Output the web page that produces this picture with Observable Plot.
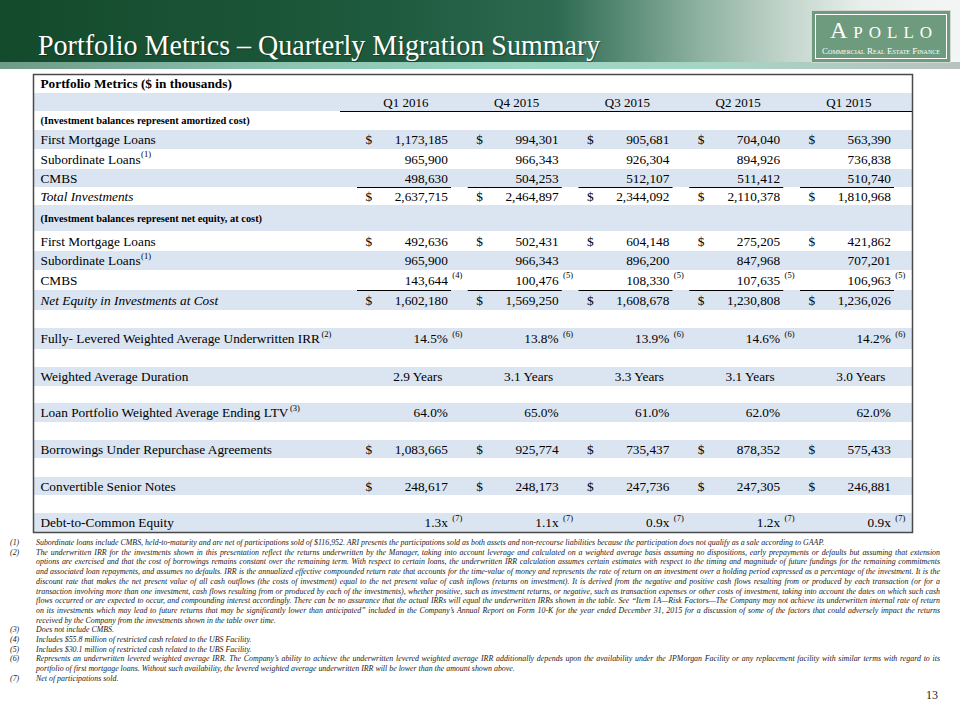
<!DOCTYPE html>
<html><head><meta charset="utf-8">
<script src="https://cdn.jsdelivr.net/npm/d3@7"></script>
<script src="https://cdn.jsdelivr.net/npm/@observablehq/plot@0.6"></script>
<style>
body{margin:0;width:960px;height:720px;position:relative;overflow:hidden;background:#fff;font-family:'Liberation Serif','Times New Roman',serif;}
#banner{position:absolute;left:0;top:0;width:960px;height:62px;background:linear-gradient(90deg,#144a2c 0%,#1e5a3d 40%,#2d6a51 58%,#5f907b 66%,#8fb2a2 73%,#c3d5cc 82%,#e9efec 90%,#f4f6f5 100%);}
#strip{position:absolute;left:0;top:62px;width:960px;height:7px;background:linear-gradient(90deg,#6f9a88 0%,#8cc4b0 30%,#9ad6c1 55%,#a6d4c4 75%,#b8c2be 100%);}
#title{position:absolute;left:38px;top:32px;font-size:28px;line-height:28px;color:#fff;white-space:nowrap;text-shadow:1px 1px 1px rgba(0,0,0,0.35);transform:scaleY(1.07);transform-origin:left bottom;}
#logo{position:absolute;left:811px;top:10px;width:138px;height:51px;background:#6e9b7d;border:1px solid #cfd8d2;}
#logoInner{position:absolute;left:3px;top:3px;right:3px;bottom:3px;border:1.5px solid #fff;}
#logoName{position:absolute;left:0;right:0;top:7px;text-align:center;color:#fff;font-size:24px;line-height:24px;letter-spacing:6px;font-variant:small-caps;padding-left:6px;}
#logoSub{position:absolute;left:0;right:0;top:36px;text-align:center;color:#fff;font-size:9px;line-height:9px;font-variant:small-caps;white-space:nowrap;}
#chart{position:absolute;left:0;top:70px;}
.fn{position:absolute;font-style:italic;font-size:7.9px;line-height:9.7px;color:#222;white-space:nowrap;}
.fnText{left:36px;width:904px;}
.fnJust{text-align:justify;text-align-last:justify;}
.fnNum{left:10px;}
#page{position:absolute;left:900px;width:38px;text-align:right;top:688px;font-size:12px;line-height:14px;color:#222;}
</style></head><body>
<div id="banner"></div>
<div id="strip"></div>
<div id="title"></div>
<div id="logo"><div id="logoInner"></div><div id="logoName"></div><div id="logoSub"></div></div>
<div id="chart"></div>
<div id="notes"></div>
<div id="page"></div>
<script>
// ---------- text ----------
const slideTitle = "Portfolio Metrics \u2013 Quarterly Migration Summary";
const logoName = "Apollo";
const logoSub = "Commercial Real Estate Finance";
const pageNumber = "13";
const tableTitle = "Portfolio Metrics ($ in thousands)";
const sectionNotes = ["(Investment balances represent amortized cost)", "(Investment balances represent net equity, at cost)"];

// ---------- data ----------
const quarters = ["Q1 2016", "Q4 2015", "Q3 2015", "Q2 2015", "Q1 2015"];
const amortFirstMortgage = [1173185, 994301, 905681, 704040, 563390];
const amortSubordinate = [965900, 966343, 926304, 894926, 736838];
const amortCMBS = [498630, 504253, 512107, 511412, 510740];
const amortTotal = [2637715, 2464897, 2344092, 2110378, 1810968];
const equityFirstMortgage = [492636, 502431, 604148, 275205, 421862];
const equitySubordinate = [965900, 966343, 896200, 847968, 707201];
const equityCMBS = [143644, 100476, 108330, 107635, 106963];
const equityCMBSNotes = ["(4)", "(5)", "(5)", "(5)", "(5)"];
const equityTotal = [1602180, 1569250, 1608678, 1230808, 1236026];
const irr = [14.5, 13.8, 13.9, 14.6, 14.2];
const irrNotes = ["(6)", "(6)", "(6)", "(6)", "(6)"];
const duration = [2.9, 3.1, 3.3, 3.1, 3.0];
const ltv = [64.0, 65.0, 61.0, 62.0, 62.0];
const repo = [1083665, 925774, 735437, 878352, 575433];
const convertible = [248617, 248173, 247736, 247305, 246881];
const debtToEquity = [1.3, 1.1, 0.9, 1.2, 0.9];
const debtNotes = ["(7)", "(7)", "(7)", "(7)", "(7)"];

const footnoteNumbers = ["(1)", "(2)", "(3)", "(4)", "(5)", "(6)", "(7)"];
const footnoteLines = [
  ["Subordinate loans include CMBS, held-to-maturity and are net of participations sold of $116,952.  ARI presents the participations sold as both assets and non-recourse liabilities because the participation does not qualify as a sale according to GAAP."],
  ["The underwritten  IRR for the investments shown in this presentation reflect the returns underwritten by the Manager, taking into account leverage and calculated on a weighted average basis assuming no dispositions, early prepayments or defaults but assuming that extension",
   "options are exercised and that the cost of borrowings remains constant over the remaining term.  With respect to certain loans, the underwritten IRR calculation assumes certain estimates with respect to the timing and magnitude of future fundings for the remaining commitments",
   "and associated loan repayments, and assumes no defaults. IRR is the annualized effective compounded return rate that accounts for the time-value of money and represents the rate of return on an investment over a holding period expressed as a percentage of the investment. It is the",
   "discount rate that makes the net present value of all cash outflows (the costs of investment) equal to the net present value of cash inflows (returns on investment). It is derived from the negative and positive cash flows resulting from or produced by each transaction (or for a",
   "transaction involving more than one investment, cash flows resulting from or produced by each of the investments), whether positive, such as investment returns, or negative, such as transaction expenses or other costs of investment, taking into account the dates on which such cash",
   "flows occurred or are expected to occur, and compounding interest accordingly. There can be no assurance that the actual IRRs will equal the underwritten IRRs shown in the table. See \u201cItem 1A\u2014Risk Factors\u2014The Company may not achieve its underwritten internal rate of return",
   "on its investments which may lead to future returns that may be significantly lower than anticipated\u201d included in the Company\u2019s Annual Report on Form 10-K for the year ended December 31, 2015 for a discussion of some of the factors that could adversely impact the returns",
   "received by the Company from the investments shown in the table over time."],
  ["Does not include CMBS."],
  ["Includes $55.8 million of restricted cash related to the UBS Facility."],
  ["Includes $30.1 million of restricted cash related to the UBS Facility."],
  ["Represents an underwritten levered weighted average IRR.  The Company\u2019s ability to achieve the underwritten levered weighted average IRR additionally depends upon the availability under the JPMorgan Facility or any replacement facility with similar terms with regard to its",
   "portfolio of first mortgage loans.   Without such availability, the levered weighted average underwritten IRR will be lower than the amount shown above."],
  ["Net of participations sold."]
];

// ---------- layout (row heights of the table, px) ----------
const rowHeights = [19,18,19,19,20,18,18,26,20,19,20,20,18,21,18,19,17,19,18,18,19,18,18,19];

// ---------- build ----------
document.getElementById("title").textContent = slideTitle;
document.getElementById("logoName").textContent = logoName;
document.getElementById("logoSub").textContent = logoSub;
document.getElementById("page").textContent = pageNumber;

const numFmt = d3.format(",");
const oneDec = d3.format(".1f");
const pctFmt = v => oneDec(v) + "%";
const yrFmt = v => oneDec(v) + " Years";
const xFmt = v => oneDec(v) + "x";

const rows = [
  {kind: "title", label: tableTitle},
  {kind: "header"},
  {kind: "note", label: sectionNotes[0]},
  {kind: "data", label: "First Mortgage Loans", values: amortFirstMortgage, fmt: numFmt, dollar: true},
  {kind: "data", label: "Subordinate Loans", sup: "(1)", values: amortSubordinate, fmt: numFmt},
  {kind: "data", label: "CMBS", values: amortCMBS, fmt: numFmt, underline: true},
  {kind: "data", label: "Total Investments", italic: true, values: amortTotal, fmt: numFmt, dollar: true},
  {kind: "note", label: sectionNotes[1]},
  {kind: "data", label: "First Mortgage Loans", values: equityFirstMortgage, fmt: numFmt, dollar: true},
  {kind: "data", label: "Subordinate Loans", sup: "(1)", values: equitySubordinate, fmt: numFmt},
  {kind: "data", label: "CMBS", values: equityCMBS, notes: equityCMBSNotes, fmt: numFmt, underline: true},
  {kind: "data", label: "Net Equity in Investments at Cost", italic: true, values: equityTotal, fmt: numFmt, dollar: true},
  {kind: "spacer"},
  {kind: "data", label: "Fully- Levered Weighted Average Underwritten IRR", sup: "(2)", values: irr, notes: irrNotes, fmt: pctFmt},
  {kind: "spacer"},
  {kind: "data", label: "Weighted Average Duration", values: duration, fmt: yrFmt, center: true},
  {kind: "spacer"},
  {kind: "data", label: "Loan Portfolio Weighted Average Ending LTV", sup: "(3)", values: ltv, fmt: pctFmt},
  {kind: "spacer"},
  {kind: "data", label: "Borrowings Under Repurchase Agreements", values: repo, fmt: numFmt, dollar: true},
  {kind: "spacer"},
  {kind: "data", label: "Convertible Senior Notes", values: convertible, fmt: numFmt, dollar: true},
  {kind: "spacer"},
  {kind: "data", label: "Debt-to-Common Equity", values: debtToEquity, notes: debtNotes, fmt: xFmt}
];
let acc = 0;
rows.forEach((r, i) => { r.top = acc; acc += rowHeights[i]; r.bottom = acc; r.mid = (r.top + r.bottom) / 2; r.band = i % 2 === 1; });
const total = acc;

const cells = rows.filter(r => r.values).flatMap(r => r.values.map((v, i) => ({
  q: quarters[i], mid: r.mid, bottom: r.bottom, text: r.fmt(v), dollar: !!r.dollar,
  center: !!r.center, note: r.notes ? r.notes[i] : null, underline: !!r.underline
})));

const FS = 13.3;
const font = "'Liberation Serif','Times New Roman',serif";
const ctx = document.createElement("canvas").getContext("2d");
ctx.font = `${FS}px 'Liberation Serif'`;

const headerRow = rows[1];
const marks = [
  Plot.rect(rows.filter(r => r.band), {y1: "top", y2: "bottom", fill: "#dbe5f1"}),
  Plot.text(rows.filter(r => r.kind === "title"), {y: "mid", text: "label", frameAnchor: "left", dx: 7, textAnchor: "start", fontSize: FS, fontWeight: "bold", fill: "#000"}),
  Plot.text(rows.filter(r => r.kind === "note"), {y: "mid", text: "label", frameAnchor: "left", dx: 7, textAnchor: "start", fontSize: 10.4, fontWeight: "bold", fill: "#000"}),
  Plot.text(rows.filter(r => r.kind === "data" && !r.italic), {y: "mid", text: "label", frameAnchor: "left", dx: 7, textAnchor: "start", fontSize: FS, fill: "#000"}),
  Plot.text(rows.filter(r => r.kind === "data" && r.italic), {y: "mid", text: "label", frameAnchor: "left", dx: 7, textAnchor: "start", fontSize: FS, fontStyle: "italic", fill: "#000"}),
  ...rows.filter(r => r.sup).map(r => Plot.text([r], {y: "mid", text: "sup", frameAnchor: "left", dx: 7 + ctx.measureText(r.label).width + 0.5, dy: -5, textAnchor: "start", fontSize: 8.5, fill: "#000"})),
  Plot.text(quarters, {x: d => d, y: () => headerRow.mid, text: d => d, dx: -7, fontSize: 13, fill: "#000"}),
  Plot.tickY(quarters, {x: d => d, y: () => headerRow.bottom, insetLeft: -17, insetRight: -1.5, stroke: "#000", strokeWidth: 1.2}),
  Plot.text(cells.filter(c => c.dollar), {x: "q", y: "mid", text: () => "$", dx: -44, fontSize: FS, fill: "#000"}),
  Plot.text(cells.filter(c => !c.center), {x: "q", y: "mid", text: "text", textAnchor: "end", dx: 35, fontSize: FS, fill: "#000"}),
  Plot.text(cells.filter(c => c.center), {x: "q", y: "mid", text: "text", dx: 5, fontSize: FS, fill: "#000"}),
  Plot.text(cells.filter(c => c.note), {x: "q", y: "mid", text: "note", textAnchor: "start", dx: 39.5, dy: -5, fontSize: 8.5, fill: "#000"}),
  Plot.tickY(cells.filter(c => c.underline), {x: "q", y: "bottom", insetRight: 16.7, stroke: "#000", strokeWidth: 1.2}),
  Plot.frame({stroke: "#4a4a4a", strokeWidth: 1.5})
];

const chart = Plot.plot({
  width: 960, height: 466,
  marginTop: 4, marginBottom: 4, marginLeft: 33, marginRight: 48,
  x: {type: "band", domain: quarters, range: [357, 910.7], padding: 0, round: false, axis: null},
  y: {type: "linear", domain: [0, total], range: [4, 4 + total], axis: null},
  style: {fontFamily: font, background: "transparent", color: "#000", overflow: "visible"},
  marks
});
document.getElementById("chart").appendChild(chart);

// footnotes
const notesEl = document.getElementById("notes");
let line = 0;
footnoteLines.forEach((lines, k) => {
  const num = document.createElement("div");
  num.className = "fn fnNum";
  num.style.top = (538 + line * 9.7) + "px";
  num.textContent = footnoteNumbers[k];
  notesEl.appendChild(num);
  lines.forEach((t, j) => {
    const d = document.createElement("div");
    d.className = "fn fnText" + (j < lines.length - 1 ? " fnJust" : "");
    d.style.top = (538 + line * 9.7) + "px";
    d.textContent = t;
    notesEl.appendChild(d);
    line++;
  });
});
</script>
</body></html>
